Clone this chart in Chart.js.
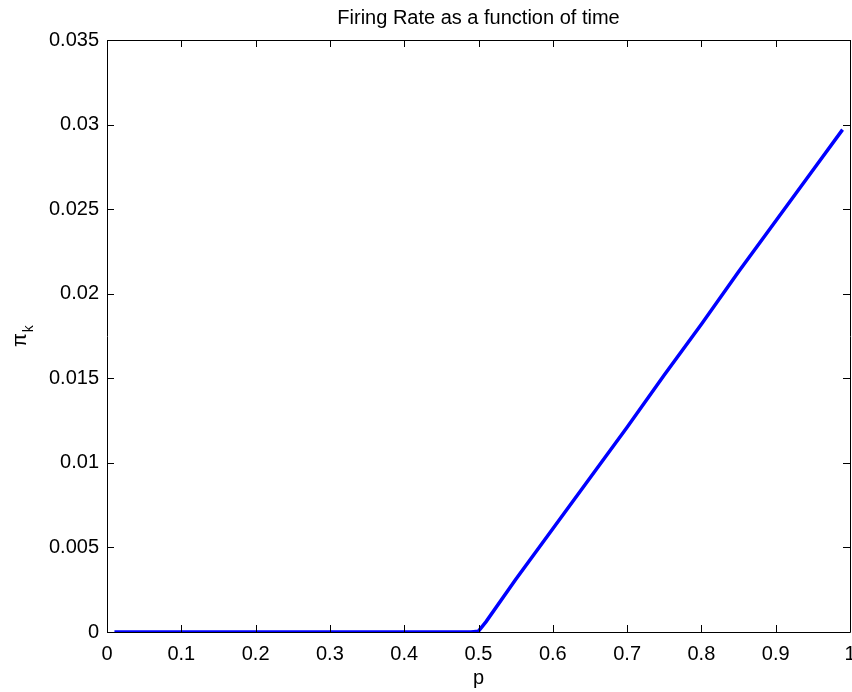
<!DOCTYPE html>
<html>
<head>
<meta charset="utf-8">
<script src="https://cdn.jsdelivr.net/npm/chart.js@4/dist/chart.umd.min.js"></script>
<style>
  body { margin: 0; background: #fff; }
  canvas { display: block; }
</style>
</head>
<body>
<canvas id="rate-chart" width="852" height="692"></canvas>
<script>
const titleText = "Firing Rate as a function of time"
const xLabel = "p"

// values
const pValues  = [0.01, 0.1, 0.2, 0.3, 0.4, 0.49, 0.5, 0.51, 0.55, 0.6, 0.65, 0.7, 0.75, 0.8, 0.85, 0.9, 0.95, 0.99]
const piValues = [0, 0, 0, 0, 0, 0, 0.00005, 0.0006, 0.0031, 0.0061, 0.0091, 0.0121, 0.0152, 0.0182, 0.0213, 0.0243, 0.0273, 0.0297]

const xTicks = [0, 0.1, 0.2, 0.3, 0.4, 0.5, 0.6, 0.7, 0.8, 0.9, 1]
const yTicks = [0, 0.005, 0.01, 0.015, 0.02, 0.025, 0.03, 0.035]

const font = "'Liberation Sans', Arial, Helvetica, sans-serif"
const fmt = v => String(+Number(v).toFixed(4))

// MATLAB style box with inward ticks, title and axis labels
const matlabFrame = {
    id: 'matlabFrame',
    afterDraw(chart) {
        const ctx = chart.ctx
        const a = chart.chartArea
        const xs = chart.scales.x
        const ys = chart.scales.y
        ctx.save()
        ctx.strokeStyle = '#000'
        ctx.lineWidth = 1
        ctx.beginPath()
        ctx.rect(Math.round(a.left) + 0.5, Math.round(a.top) + 0.5,
                 Math.round(a.right - a.left), Math.round(a.bottom - a.top))
        ctx.stroke()
        const len = 7
        ctx.beginPath()
        xTicks.forEach(t => {
            const px = Math.round(xs.getPixelForValue(t)) + 0.5
            ctx.moveTo(px, a.bottom); ctx.lineTo(px, a.bottom - len)
            ctx.moveTo(px, a.top); ctx.lineTo(px, a.top + len)
        })
        yTicks.forEach(t => {
            const py = Math.round(ys.getPixelForValue(t)) + 0.5
            ctx.moveTo(a.left, py); ctx.lineTo(a.left + len, py)
            ctx.moveTo(a.right, py); ctx.lineTo(a.right - len, py)
        })
        ctx.stroke()

        ctx.fillStyle = '#000'
        ctx.textAlign = 'center'
        ctx.textBaseline = 'alphabetic'
        ctx.font = '20px ' + font
        ctx.fillText(titleText, (a.left + a.right) / 2, 24)
        ctx.fillText(xLabel, (a.left + a.right) / 2, 684)

        // y label: pi with subscript k
        ctx.translate(26, 347)
        ctx.rotate(-Math.PI / 2)
        ctx.textAlign = 'left'
        ctx.font = '20px ' + font
        ctx.fillText('\u03c0', 0, 0)
        const w = ctx.measureText('\u03c0').width
        ctx.font = '14px ' + font
        ctx.fillText('k', w + 1, 7)
        ctx.restore()
    }
}

new Chart(document.getElementById("rate-chart"), {
    type: 'line',
    data: {
        datasets: [{
            label: 'pi_k',
            data: pValues.map((p, i) => ({x: p, y: piValues[i]})),
            borderColor: "#0000FF",
            borderWidth: 3.5,
            pointRadius: 0,
            tension: 0
        }]
    },
    options: {
        responsive: false,
        animation: false,
        devicePixelRatio: 1,
        layout: { padding: { top: 40, right: 2, left: 0, bottom: 0 } },
        plugins: { legend: { display: false }, title: { display: false }, tooltip: { enabled: false } },
        scales: {
            x: {
                type: 'linear',
                min: 0, max: 1,
                afterBuildTicks: s => { s.ticks = xTicks.map(v => ({value: v})) },
                afterFit: s => { s.height = 60; s.paddingLeft = 0; s.paddingRight = 0 },
                grid: { drawOnChartArea: false, drawTicks: false },
                border: { display: false },
                ticks: { color: '#000', padding: 10, maxRotation: 0, autoSkip: false,
                         font: { family: font, size: 20 }, callback: fmt }
            },
            y: {
                type: 'linear',
                min: 0, max: 0.035,
                afterBuildTicks: s => { s.ticks = yTicks.map(v => ({value: v})) },
                afterFit: s => { s.width = 107; s.paddingTop = 0; s.paddingBottom = 0 },
                grid: { drawOnChartArea: false, drawTicks: false },
                border: { display: false },
                ticks: { color: '#000', padding: 8, autoSkip: false,
                         font: { family: font, size: 20 }, callback: fmt }
            }
        }
    },
    plugins: [matlabFrame]
})
</script>
</body>
</html>
